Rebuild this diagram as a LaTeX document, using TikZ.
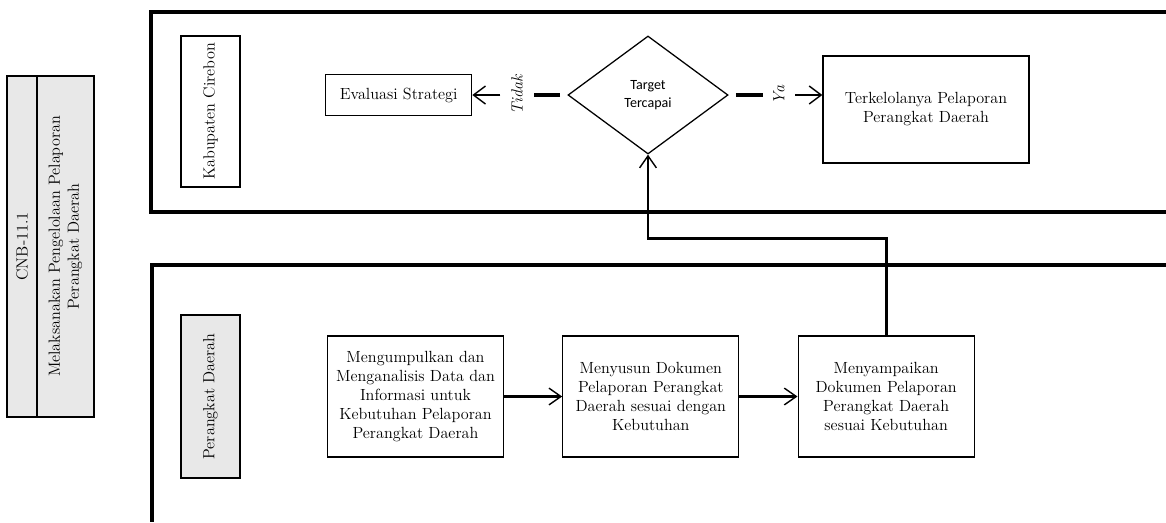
\documentclass[tikz,border=0pt]{standalone}
\usepackage{fontspec}
\newfontfamily\sansdia{Carlito}
\usetikzlibrary{arrows.meta,positioning,shapes.geometric}

\begin{document}
\begin{tikzpicture}[x=0.025cm, y=-0.025cm,
  node distance=1.45cm,
  kotak/.style={draw, line width=0.9pt, fill=white, align=center,
                font=\fontsize{11.5}{13.5}\selectfont, inner sep=3pt},
  lajurlabel/.style={draw, line width=0.9pt, rotate=90, align=center,
                font=\fontsize{11.5}{13.5}\selectfont, minimum height=1.475cm},
  keputusan/.style={draw, diamond, line width=0.9pt, align=center,
                font=\sansdia\fontsize{10}{12.5}\selectfont,
                minimum width=4cm, minimum height=2.95cm, inner sep=0pt},
  ket/.style={rotate=90, font=\itshape\fontsize{11.5}{13.5}\selectfont, inner sep=7.5pt},
  lajur/.style={line width=2.2pt},
  ruas/.style={line width=2.2pt},
  panah/.style={-{Straight Barb[length=0.3cm, width=0.42cm, line width=1pt]}, line width=2pt},
  panahtipis/.style={-{Straight Barb[length=0.3cm, width=0.45cm, line width=1pt]}, line width=1pt}
]
\useasboundingbox (0,0) rectangle (1166,522);

% label kegiatan
\node[lajurlabel, fill=gray!18, minimum width=8.525cm, minimum height=0.75cm, inner sep=0pt]
  (cnbkode) at (22,246.5) {CNB-11.1};
\node[lajurlabel, fill=gray!18, minimum width=8.525cm, minimum height=1.425cm, inner sep=0pt]
  (cnbnama) at (65.5,246.5) {Melaksanakan Pengelolaan Pelaporan\\Perangkat Daerah};

% lajur
\draw[lajur] (1166,12) -- (151,12) -- (151,212) -- (1166,212);
\draw[lajur] (1166,265) -- (152,265) -- (152,522);
\node[lajurlabel, fill=white, minimum width=3.775cm] (kab) at (210.5,111.5) {Kabupaten Cirebon};
\node[lajurlabel, fill=gray!18, minimum width=4.075cm] (pd) at (210.5,396.5) {Perangkat Daerah};

% lajur atas
\node[keputusan] (dia) at (648,95) {Target\\Tercapai};
\node[kotak, minimum width=3.65cm, minimum height=1.025cm, left=2.375cm of dia] (eval) {Evaluasi Strategi};
\node[kotak, minimum width=5.15cm, minimum height=2.675cm] (kelola) at (926,109.5)
  {Terkelolanya Pelaporan\\Perangkat Daerah};
\node[ket] (tidak) at (517,95) {Tidak};
\node[ket] (ya) at (779,95) {Ya};

% lajur bawah
\node[kotak, minimum width=4.4cm, minimum height=3.025cm] (kumpul) at (415.5,396.5)
  {Mengumpulkan dan\\Menganalisis Data dan\\Informasi untuk\\Kebutuhan Pelaporan\\Perangkat Daerah};
\node[kotak, minimum width=4.4cm, minimum height=3.025cm, right=of kumpul] (susun)
  {Menyusun Dokumen\\Pelaporan Perangkat\\Daerah sesuai dengan\\Kebutuhan};
\node[kotak, minimum width=4.4cm, minimum height=3.025cm, right=of susun] (sampai)
  {Menyampaikan\\Dokumen Pelaporan\\Perangkat Daerah\\sesuai Kebutuhan};

% alur
\draw[panah] (kumpul) -- (susun);
\draw[panah] (susun) -- (sampai);
\draw[panah] (sampai.north) -- ++(0,-97) -| (dia.south);
\draw[ruas, shorten <=0.18cm] (dia.west) -- (tidak);
\draw[panahtipis] (tidak) -- (eval);
\draw[ruas, shorten <=0.18cm] (dia.east) -- (ya);
\draw[panahtipis] (ya) -- (ya -| kelola.west);
\end{tikzpicture}
\end{document}
